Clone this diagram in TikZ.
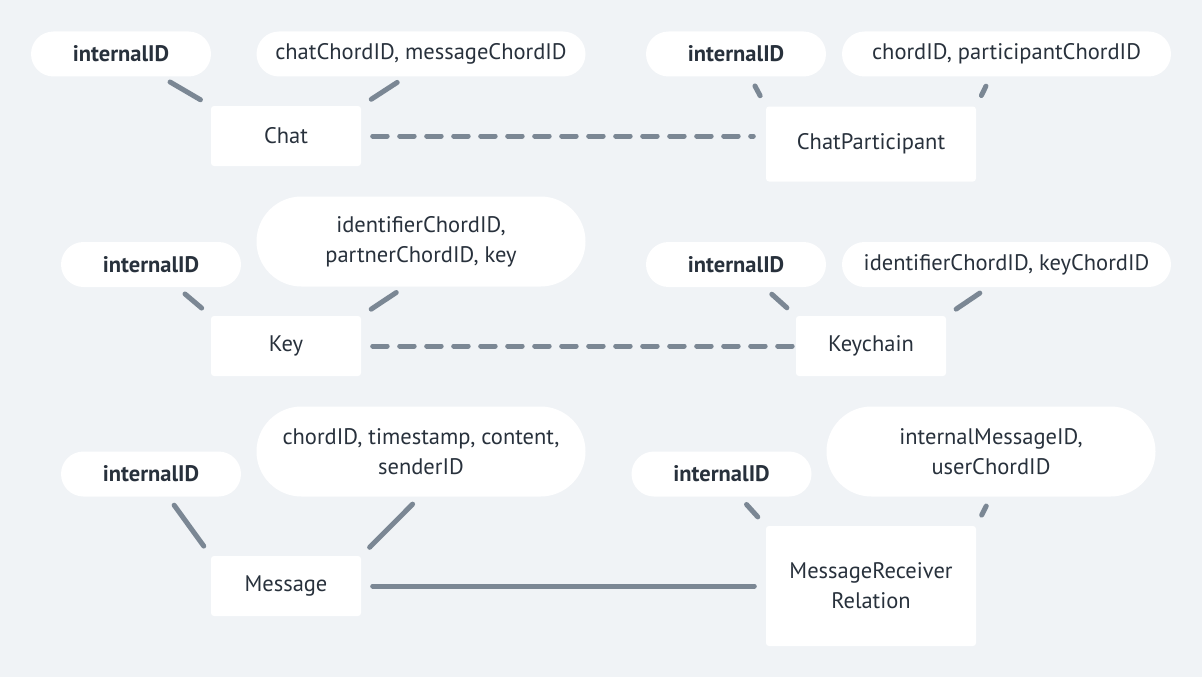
\documentclass[tikz,border=0pt]{standalone}
\usepackage{fontspec}
\setmainfont{PT Sans}
\usetikzlibrary{positioning}
\definecolor{bgcol}{HTML}{F0F3F6}
\definecolor{txtcol}{HTML}{28313C}
\definecolor{linecol}{HTML}{7B8794}

\begin{document}
\begin{tikzpicture}[x=1pt,y=-1pt,
    every node/.style={text=txtcol,font=\fontsize{22.5}{30}\selectfont,inner sep=0pt},
    attr/.style={fill=white,rounded corners=22.5pt,minimum height=45pt,minimum width=329pt,align=center},
    idattr/.style={attr,minimum width=180pt,font=\fontsize{22.5}{30}\selectfont\bfseries},
    attrtwo/.style={attr,minimum height=90pt,rounded corners=45pt},
    entity/.style={fill=white,rounded corners=3pt,minimum width=150pt,minimum height=60pt,align=center},
    link/.style={draw=linecol,line width=5pt,line cap=round,shorten <=10.5pt,shorten >=12pt},
    rel/.style={draw=linecol,line width=5pt,line cap=round,shorten <=11.5pt,shorten >=11.5pt},
    reldash/.style={rel,dash pattern=on 14.5pt off 12.5pt}]
    \fill[bgcol] (0,0) rectangle (1202,677);

    % Chat -- ChatParticipant
    \node[idattr] (chatid) at (121,54) {internalID};
    \node[attr] (chatkeys) at (421,54) {chatChordID, messageChordID};
    \node[entity] (chat) at (286,136) {Chat};
    \node[idattr] (cpid) at (736,54) {internalID};
    \node[attr] (cpkeys) at (1006.5,54) {chordID, participantChordID};
    \node[entity,minimum width=210pt,minimum height=75pt] (cp) at (871,144) {ChatParticipant};
    \draw[link] ([xshift=40pt]chatid.south) -- (chat.north west);
    \draw[link] ([xshift=-15pt]chatkeys.south) -- (chat.north east);
    \draw[link] ([xshift=14pt]cpid.south) -- (cp.north west);
    \draw[link] ([xshift=-16pt]cpkeys.south) -- (cp.north east);
    \draw[reldash,shorten >=12.5pt] (chat) -- (chat -| cp.west);

    % Key -- Keychain
    \node[idattr] (keyid) at (151,264.5) {internalID};
    \node[attrtwo] (keykeys) at (421,241.5) {identifierChordID,\\partnerChordID, key};
    \node[entity] (key) at (286,346) {Key};
    \node[idattr] (kcid) at (736,264.5) {internalID};
    \node[attr] (kckeys) at (1006.5,264.5) {identifierChordID, keyChordID};
    \node[entity] (keychain) at (871,346) {Keychain};
    \draw[link] ([xshift=26pt]keyid.south) -- (key.north west);
    \draw[link] ([xshift=-16pt]keykeys.south) -- (key.north east);
    \draw[link] ([xshift=28pt]kcid.south) -- (keychain.north west);
    \draw[link] ([xshift=-18pt]kckeys.south) -- (keychain.north east);
    \draw[reldash,shorten >=0pt] (key) -- (keychain);

    % Message -- MessageReceiverRelation
    \node[idattr] (msgid) at (151,474) {internalID};
    \node[attrtwo] (msgkeys) at (421,451.5) {chordID, timestamp, content,\\senderID};
    \node[entity] (msg) at (286,586) {Message};
    \node[idattr] (mrrid) at (721.5,474) {internalID};
    \node[attrtwo] (mrrkeys) at (991,451.5) {internalMessageID,\\userChordID};
    \node[entity,minimum width=210pt,minimum height=120pt] (mrr) at (871,586) {MessageReceiver\\Relation};
    \draw[link] ([xshift=17pt]msgid.south) -- (msg.north west);
    \draw[link] ([xshift=-1pt]msgkeys.south) -- (msg.north east);
    \draw[link] ([xshift=18pt]mrrid.south) -- (mrr.north west);
    \draw[link] (mrrkeys.south) -- (mrr.north east);
    \draw[rel] (msg) -- (mrr);
\end{tikzpicture}
\end{document}
